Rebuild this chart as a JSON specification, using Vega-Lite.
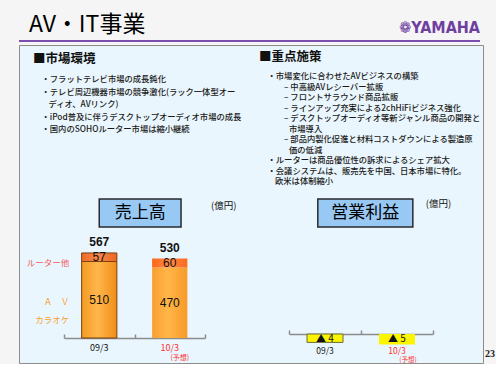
{
  "$schema": "https://vega.github.io/schema/vega-lite/v6.json",
  "background": "#f5f5f5",
  "padding": {"left": 18, "top": 14, "right": 0, "bottom": 0},
  "config": {
    "font": "Noto Sans CJK JP",
    "view": {"stroke": null},
    "locale": {"number": {"decimal": ".", "thousands": ",", "grouping": [3], "currency": ["", ""], "minus": "▲ "}}
  },
  "datasets": {
    "sections": [
      {"section": "市場環境", "heading": "■市場環境"},
      {"section": "重点施策", "heading": "■重点施策"}
    ],
    "notes": [
      {"section": "市場環境", "i": 0, "level": "b", "text": "・フラットテレビ市場の成長鈍化"},
      {"section": "市場環境", "i": 1, "level": "b", "text": "・テレビ周辺機器市場の競争激化(ラック一体型オー"},
      {"section": "市場環境", "i": 2, "level": "bc", "text": "ディオ、AVリンク)"},
      {"section": "市場環境", "i": 3, "level": "b", "text": "・iPod普及に伴うデスクトップオーディオ市場の成長"},
      {"section": "市場環境", "i": 4, "level": "b", "text": "・国内のSOHOルーター市場は縮小継続"},
      {"section": "重点施策", "i": 0, "level": "b", "text": "・市場変化に合わせたAVビジネスの構築"},
      {"section": "重点施策", "i": 1, "level": "s", "text": "– 中高級AVレシーバー拡販"},
      {"section": "重点施策", "i": 2, "level": "s", "text": "– フロントサラウンド商品拡販"},
      {"section": "重点施策", "i": 3, "level": "s", "text": "– ラインアップ充実による2chHiFiビジネス強化"},
      {"section": "重点施策", "i": 4, "level": "s", "text": "– デスクトップオーディオ等新ジャンル商品の開発と"},
      {"section": "重点施策", "i": 5, "level": "sc", "text": "市場導入"},
      {"section": "重点施策", "i": 6, "level": "s", "text": "– 部品内製化促進と材料コストダウンによる製造原"},
      {"section": "重点施策", "i": 7, "level": "sc", "text": "価の低減"},
      {"section": "重点施策", "i": 8, "level": "b", "text": "・ルーターは商品優位性の訴求によるシェア拡大"},
      {"section": "重点施策", "i": 9, "level": "b", "text": "・会議システムは、販売先を中国、日本市場に特化。"},
      {"section": "重点施策", "i": 10, "level": "bc", "text": "欧米は体制縮小"}
    ],
    "sales": [
      {"year": "09/3", "segment": "Ａ　Ｖ・カラオケ", "value": 510},
      {"year": "09/3", "segment": "ルーター他", "value": 57},
      {"year": "10/3", "segment": "Ａ　Ｖ・カラオケ", "value": 470},
      {"year": "10/3", "segment": "ルーター他", "value": 60}
    ],
    "profit": [
      {"year": "09/3", "value": -4},
      {"year": "10/3", "value": -5}
    ],
    "captions": [
      {"chart": "sales", "caption": "売上高", "unit": "(億円)"},
      {"chart": "profit", "caption": "営業利益", "unit": "(億円)"}
    ],
    "page": [{"page": "23"}]
  },
  "vconcat": [
    {
      "hconcat": [
        {
          "width": 232, "height": 2,
          "view": {"fill": "#7b4fae", "stroke": null},
          "title": {"text": "AV・IT事業", "anchor": "start", "fontSize": 23, "fontWeight": "normal", "color": "#000000", "dx": 10, "offset": 3, "font": "Noto Sans CJK JP"},
          "data": {"values": []},
          "mark": "rect"
        },
        {
          "width": 229, "height": 2,
          "view": {"fill": "#7b4fae", "stroke": null},
          "title": {"text": "❁YAMAHA", "anchor": "end", "fontSize": 16, "fontWeight": "bold", "color": "#6f3fa0", "offset": 4, "font": "DejaVu Sans Condensed, Liberation Sans Narrow, DejaVu Sans"},
          "data": {"values": []},
          "mark": "rect"
        }
      ],
      "spacing": 0,
      "bounds": "flush"
    },
    {
      "width": 464,
      "height": 318,
      "view": {"fill": "#eaf6fd", "stroke": "#8c8c8c", "strokeWidth": 1},
      "layer": [
        {
          "layer": [
            {
              "data": {"name": "sections"},
              "mark": {"type": "text", "align": "left", "baseline": "middle", "fontSize": 12.5, "fontWeight": "bold", "color": "#111111"},
              "encoding": {
                "x": {"field": "section", "type": "nominal", "scale": {"type": "point", "domain": ["市場環境", "重点施策"], "range": [14, 240], "padding": 0}, "axis": null},
                "y": {"field": "section", "type": "nominal", "scale": {"type": "point", "domain": ["市場環境", "重点施策"], "range": [14, 12], "padding": 0}, "axis": null},
                "text": {"field": "heading"}
              }
            },
            {
              "data": {"name": "notes"},
              "transform": [{"filter": "datum.section === '市場環境' && datum.level === 'b'"}],
              "mark": {"type": "text", "align": "left", "baseline": "middle", "dx": 8.5, "fontSize": 8.3, "fontWeight": 500, "color": "#1a1a1a"},
              "encoding": {
                "x": {"field": "section", "type": "nominal", "scale": {"type": "point", "domain": ["市場環境", "重点施策"], "range": [14, 240], "padding": 0}, "axis": null},
                "y": {"field": "i", "type": "quantitative", "scale": {"domain": [0, 4], "range": [35, 85], "nice": false, "zero": false}, "axis": null},
                "text": {"field": "text"}
              }
            },
            {
              "data": {"name": "notes"},
              "transform": [{"filter": "datum.section === '市場環境' && datum.level === 'bc'"}],
              "mark": {"type": "text", "align": "left", "baseline": "middle", "dx": 15.5, "fontSize": 8.3, "fontWeight": 500, "color": "#1a1a1a"},
              "encoding": {
                "x": {"field": "section", "type": "nominal", "scale": {"type": "point", "domain": ["市場環境", "重点施策"], "range": [14, 240], "padding": 0}, "axis": null},
                "y": {"field": "i", "type": "quantitative", "scale": {"domain": [0, 4], "range": [35, 85], "nice": false, "zero": false}, "axis": null},
                "text": {"field": "text"}
              }
            },
            {
              "data": {"name": "notes"},
              "transform": [{"filter": "datum.section === '重点施策' && datum.level === 'b'"}],
              "mark": {"type": "text", "align": "left", "baseline": "middle", "dx": 8.5, "fontSize": 8.3, "fontWeight": 500, "color": "#1a1a1a"},
              "encoding": {
                "x": {"field": "section", "type": "nominal", "scale": {"type": "point", "domain": ["市場環境", "重点施策"], "range": [14, 240], "padding": 0}, "axis": null},
                "y": {"field": "i", "type": "quantitative", "scale": {"domain": [0, 10], "range": [32, 137], "nice": false, "zero": false}, "axis": null},
                "text": {"field": "text"}
              }
            },
            {
              "data": {"name": "notes"},
              "transform": [{"filter": "datum.section === '重点施策' && datum.level === 'bc'"}],
              "mark": {"type": "text", "align": "left", "baseline": "middle", "dx": 16, "fontSize": 8.3, "fontWeight": 500, "color": "#1a1a1a"},
              "encoding": {
                "x": {"field": "section", "type": "nominal", "scale": {"type": "point", "domain": ["市場環境", "重点施策"], "range": [14, 240], "padding": 0}, "axis": null},
                "y": {"field": "i", "type": "quantitative", "scale": {"domain": [0, 10], "range": [32, 137], "nice": false, "zero": false}, "axis": null},
                "text": {"field": "text"}
              }
            },
            {
              "data": {"name": "notes"},
              "transform": [{"filter": "datum.section === '重点施策' && datum.level === 's'"}],
              "mark": {"type": "text", "align": "left", "baseline": "middle", "dx": 25, "fontSize": 8.3, "fontWeight": 500, "color": "#1a1a1a"},
              "encoding": {
                "x": {"field": "section", "type": "nominal", "scale": {"type": "point", "domain": ["市場環境", "重点施策"], "range": [14, 240], "padding": 0}, "axis": null},
                "y": {"field": "i", "type": "quantitative", "scale": {"domain": [0, 10], "range": [32, 137], "nice": false, "zero": false}, "axis": null},
                "text": {"field": "text"}
              }
            },
            {
              "data": {"name": "notes"},
              "transform": [{"filter": "datum.section === '重点施策' && datum.level === 'sc'"}],
              "mark": {"type": "text", "align": "left", "baseline": "middle", "dx": 30, "fontSize": 8.3, "fontWeight": 500, "color": "#1a1a1a"},
              "encoding": {
                "x": {"field": "section", "type": "nominal", "scale": {"type": "point", "domain": ["市場環境", "重点施策"], "range": [14, 240], "padding": 0}, "axis": null},
                "y": {"field": "i", "type": "quantitative", "scale": {"domain": [0, 10], "range": [32, 137], "nice": false, "zero": false}, "axis": null},
                "text": {"field": "text"}
              }
            }
          ],
          "resolve": {"scale": {"y": "independent"}, "axis": {"y": "independent"}}
        },
        {
          "data": {"name": "sales"},
          "layer": [
            {
              "transform": [{"stack": "value", "groupby": ["year"], "sort": [{"field": "segment", "order": "descending"}], "as": ["v0", "v1"]}],
              "mark": {"type": "bar", "width": {"band": 0.5}, "strokeWidth": 1},
              "encoding": {
                "x": {"field": "year", "type": "nominal", "scale": {"type": "band", "range": [45, 186], "paddingInner": 0, "paddingOuter": 0},
                      "axis": {"orient": "bottom", "offset": -25, "labels": false, "title": null, "grid": false, "domainColor": "#8c8c8c", "domainWidth": 1.5, "tickColor": "#8c8c8c", "tickWidth": 1.5, "tickSize": -4, "tickBand": "extent"}},
                "y": {"field": "v1", "type": "quantitative", "scale": {"domain": [0, 1000], "range": [293, 143], "nice": false, "zero": false}, "axis": null},
                "y2": {"field": "v0"},
                "fill": {
                  "condition": [
                    {"test": "datum.segment === 'ルーター他' && datum.year === '09/3'", "value": {"gradient": "linear", "x1": 0, "y1": 0, "x2": 1, "y2": 0, "stops": [{"offset": 0, "color": "#ee6a26"}, {"offset": 0.45, "color": "#f98a4c"}, {"offset": 1, "color": "#ec6420"}]}},
                    {"test": "datum.segment === 'ルーター他'", "value": {"gradient": "linear", "x1": 0, "y1": 0, "x2": 1, "y2": 0, "stops": [{"offset": 0, "color": "#ff6418"}, {"offset": 0.45, "color": "#ff8a44"}, {"offset": 1, "color": "#fc6a1c"}]}},
                    {"test": "datum.year === '09/3'", "value": {"gradient": "linear", "x1": 0, "y1": 0, "x2": 1, "y2": 0, "stops": [{"offset": 0, "color": "#f39a22"}, {"offset": 0.45, "color": "#ffb64c"}, {"offset": 1, "color": "#f08e16"}]}}
                  ],
                  "value": {"gradient": "linear", "x1": 0, "y1": 0, "x2": 1, "y2": 0, "stops": [{"offset": 0, "color": "#f8a030"}, {"offset": 0.45, "color": "#ffb648"}, {"offset": 1, "color": "#f89a26"}]}
                },
                "stroke": {"condition": {"test": "datum.year === '09/3'", "value": "#7a4010"}, "value": "transparent"}
              }
            },
            {
              "transform": [
                {"stack": "value", "groupby": ["year"], "sort": [{"field": "segment", "order": "descending"}], "as": ["v0", "v1"]},
                {"fold": ["v0", "v1"], "as": ["edge", "pos"]},
                {"aggregate": [{"op": "mean", "field": "pos", "as": "mid"}, {"op": "max", "field": "value", "as": "value"}], "groupby": ["year", "segment"]}
              ],
              "mark": {"type": "text", "fontSize": 12, "font": "Liberation Sans", "color": "#111111", "baseline": "middle"},
              "encoding": {
                "x": {"field": "year", "type": "nominal"},
                "y": {"field": "mid", "type": "quantitative"},
                "text": {"field": "value", "type": "quantitative"}
              }
            },
            {
              "transform": [
                {"stack": "value", "groupby": ["year"], "sort": [{"field": "segment", "order": "descending"}], "as": ["v0", "v1"]},
                {"fold": ["v0", "v1"], "as": ["edge", "pos"]},
                {"aggregate": [{"op": "mean", "field": "pos", "as": "mid"}], "groupby": ["year", "segment"]},
                {"filter": "datum.year === '09/3' && datum.segment === 'ルーター他'"}
              ],
              "mark": {"type": "text", "align": "right", "baseline": "middle", "dx": -30, "dy": 6, "fontSize": 8.5, "color": "#f05a5a"},
              "encoding": {
                "x": {"field": "year", "type": "nominal"},
                "y": {"field": "mid", "type": "quantitative"},
                "text": {"field": "segment"}
              }
            },
            {
              "transform": [
                {"stack": "value", "groupby": ["year"], "sort": [{"field": "segment", "order": "descending"}], "as": ["v0", "v1"]},
                {"fold": ["v0", "v1"], "as": ["edge", "pos"]},
                {"aggregate": [{"op": "mean", "field": "pos", "as": "mid"}], "groupby": ["year", "segment"]},
                {"filter": "datum.year === '09/3' && datum.segment !== 'ルーター他'"}
              ],
              "mark": {"type": "text", "align": "right", "baseline": "middle", "dx": -30, "dy": 2, "fontSize": 8.5, "lineBreak": "・", "lineHeight": 18, "color": "#f5a030"},
              "encoding": {
                "x": {"field": "year", "type": "nominal"},
                "y": {"field": "mid", "type": "quantitative"},
                "text": {"field": "segment"}
              }
            },
            {
              "transform": [{"aggregate": [{"op": "sum", "field": "value", "as": "total"}], "groupby": ["year"]}],
              "mark": {"type": "text", "fontSize": 12, "fontWeight": "bold", "font": "Liberation Sans", "color": "#111111", "baseline": "bottom", "dy": -4},
              "encoding": {
                "x": {"field": "year", "type": "nominal"},
                "y": {"field": "total", "type": "quantitative"},
                "text": {"field": "total", "type": "quantitative"}
              }
            },
            {
              "transform": [{"aggregate": [{"op": "count", "as": "n"}], "groupby": ["year"]}],
              "mark": {"type": "text", "fontSize": 9, "baseline": "middle", "dy": 10},
              "encoding": {
                "x": {"field": "year", "type": "nominal"},
                "y": {"datum": 0, "type": "quantitative"},
                "text": {"field": "year"},
                "fill": {"condition": {"test": "datum.year === '10/3'", "value": "#ff3030"}, "value": "#111111"}
              }
            },
            {
              "transform": [{"aggregate": [{"op": "count", "as": "n"}], "groupby": ["year"]}, {"filter": "datum.year === '10/3'"}],
              "mark": {"type": "text", "text": "(予想)", "fontSize": 7, "baseline": "middle", "dx": 10, "dy": 20, "color": "#ff3030"},
              "encoding": {
                "x": {"field": "year", "type": "nominal"},
                "y": {"datum": 0, "type": "quantitative"}
              }
            },
            {
              "data": {"name": "captions"},
              "transform": [{"filter": "datum.chart === 'sales'"}],
              "mark": {"type": "rect", "fill": "#98c9f4", "stroke": "#2a2a2a", "strokeWidth": 1.5},
              "encoding": {
                "x": {"datum": "09/3", "type": "nominal", "bandPosition": 0.5},
                "x2": {"datum": "10/3", "bandPosition": 0.66},
                "y": {"datum": 927, "type": "quantitative"},
                "y2": {"datum": 740}
              }
            },
            {
              "data": {"name": "captions"},
              "transform": [{"filter": "datum.chart === 'sales'"}],
              "mark": {"type": "text", "fontSize": 17, "color": "#000000", "baseline": "middle"},
              "encoding": {
                "x": {"datum": "10/3", "type": "nominal", "bandPosition": 0.08},
                "y": {"datum": 833, "type": "quantitative"},
                "text": {"field": "caption"}
              }
            },
            {
              "data": {"name": "captions"},
              "transform": [{"filter": "datum.chart === 'sales'"}],
              "mark": {"type": "text", "fontSize": 9.5, "color": "#111111", "baseline": "middle", "align": "left", "dx": 6},
              "encoding": {
                "x": {"datum": "10/3", "type": "nominal", "bandPosition": 1},
                "y": {"datum": 880, "type": "quantitative"},
                "text": {"field": "unit"}
              }
            }
          ]
        },
        {
          "data": {"name": "profit"},
          "layer": [
            {
              "mark": {"type": "bar", "width": {"band": 0.5}, "strokeWidth": 1},
              "encoding": {
                "x": {"field": "year", "type": "nominal", "scale": {"type": "band", "range": [270, 414], "paddingInner": 0, "paddingOuter": 0},
                      "axis": {"orient": "bottom", "offset": -29, "labels": false, "title": null, "grid": false, "domainColor": "#8c8c8c", "domainWidth": 1.5, "tickColor": "#8c8c8c", "tickWidth": 1.5, "tickSize": -4, "tickBand": "extent"}},
                "y": {"field": "value", "type": "quantitative", "scale": {"domain": [-10, 70], "range": [310, 142], "nice": false, "zero": false}, "axis": null},
                "y2": {"datum": 0},
                "fill": {"value": "#fbf600"},
                "stroke": {"condition": {"test": "datum.year === '09/3'", "value": "#6a6a3a"}, "value": "transparent"}
              }
            },
            {
              "mark": {"type": "text", "fontSize": 10, "font": "Noto Sans CJK JP", "color": "#111111", "baseline": "middle", "dy": 5},
              "encoding": {
                "x": {"field": "year", "type": "nominal"},
                "y": {"datum": 0, "type": "quantitative"},
                "text": {"field": "value", "type": "quantitative"}
              }
            },
            {
              "mark": {"type": "text", "fontSize": 8.5, "baseline": "middle", "dy": 16.5},
              "encoding": {
                "x": {"field": "year", "type": "nominal"},
                "y": {"datum": 0, "type": "quantitative"},
                "text": {"field": "year"},
                "fill": {"condition": {"test": "datum.year === '10/3'", "value": "#ff3030"}, "value": "#111111"}
              }
            },
            {
              "transform": [{"filter": "datum.year === '10/3'"}],
              "mark": {"type": "text", "text": "(予想)", "fontSize": 6.5, "baseline": "middle", "dx": 11, "dy": 25.5, "color": "#ff3030"},
              "encoding": {
                "x": {"field": "year", "type": "nominal"},
                "y": {"datum": 0, "type": "quantitative"}
              }
            },
            {
              "data": {"name": "captions"},
              "transform": [{"filter": "datum.chart === 'profit'"}],
              "mark": {"type": "rect", "fill": "#98c9f4", "stroke": "#2a2a2a", "strokeWidth": 1.5},
              "encoding": {
                "x": {"datum": "09/3", "type": "nominal", "bandPosition": 0.4},
                "x2": {"datum": "10/3", "bandPosition": 0.72},
                "y": {"datum": 64.3, "type": "quantitative"},
                "y2": {"datum": 51}
              }
            },
            {
              "data": {"name": "captions"},
              "transform": [{"filter": "datum.chart === 'profit'"}],
              "mark": {"type": "text", "fontSize": 17, "color": "#000000", "baseline": "middle"},
              "encoding": {
                "x": {"datum": "10/3", "type": "nominal", "bandPosition": 0.06},
                "y": {"datum": 57.6, "type": "quantitative"},
                "text": {"field": "caption"}
              }
            },
            {
              "data": {"name": "captions"},
              "transform": [{"filter": "datum.chart === 'profit'"}],
              "mark": {"type": "text", "fontSize": 9.5, "color": "#111111", "baseline": "middle", "align": "left"},
              "encoding": {
                "x": {"datum": "10/3", "type": "nominal", "bandPosition": 0.9},
                "y": {"datum": 61.9, "type": "quantitative"},
                "text": {"field": "unit"}
              }
            },
            {
              "data": {"name": "page"},
              "mark": {"type": "text", "fontSize": 10, "font": "Liberation Serif", "fontWeight": "bold", "color": "#222222", "baseline": "middle", "align": "left", "dx": 52, "dy": 20},
              "encoding": {
                "x": {"datum": "10/3", "type": "nominal", "bandPosition": 1},
                "y": {"datum": 0, "type": "quantitative"},
                "text": {"field": "page"}
              }
            }
          ]
        }
      ],
      "resolve": {"scale": {"x": "independent", "y": "independent"}, "axis": {"x": "independent", "y": "independent"}}
    }
  ],
  "spacing": 5,
  "bounds": "flush"
}
